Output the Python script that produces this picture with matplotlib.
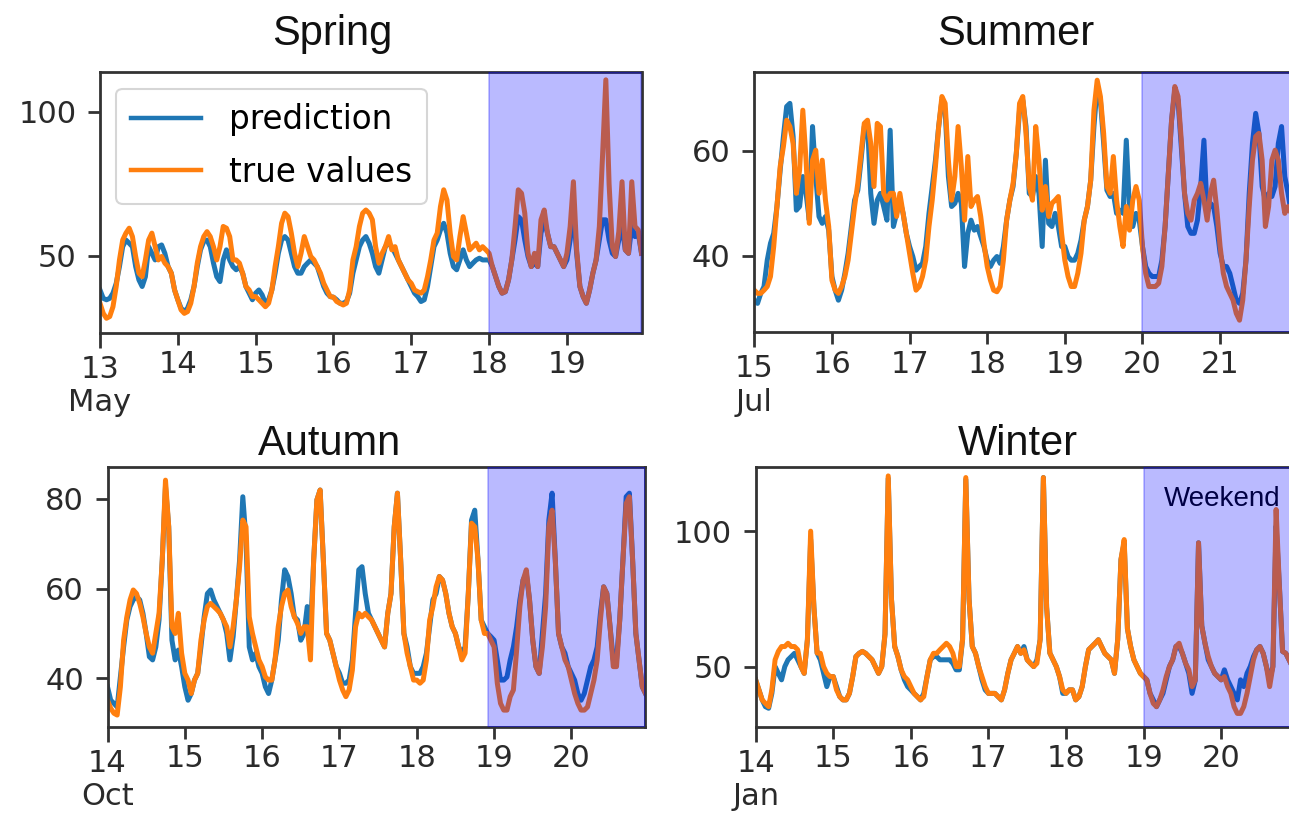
import numpy as np
import matplotlib
matplotlib.use("Agg")
import matplotlib.pyplot as plt

# ---------------- data (hourly values, 7 days each) ----------------
spring_days = ["13\nMay", "14", "15", "16", "17", "18", "19"]
summer_days = ["15\nJul", "16", "17", "18", "19", "20", "21"]
autumn_days = ["14\nOct", "15", "16", "17", "18", "19", "20"]
winter_days = ["14\nJan", "15", "16", "17", "18", "19", "20"]

spring_pred = [
    38.2, 35.3, 34.8, 35.3, 37.1, 40.5, 46.3, 53.2, 55.5, 54.4, 53.2, 46.3, 41.7, 39.4, 42.8, 53.2, 50.9, 48.6, 53.2, 53.8, 50.9, 46.3, 44.0, 38.2,
    34.8, 31.9, 30.7, 31.9, 34.8, 39.4, 46.3, 52.1, 55.0, 55.5, 53.2, 47.5, 42.8, 41.1, 48.6, 52.1, 48.6, 46.3, 45.2, 46.3, 44.0, 39.4, 37.1, 34.8,
    37.1, 38.2, 36.5, 33.6, 34.8, 38.2, 44.0, 50.9, 55.5, 56.7, 55.5, 50.9, 46.3, 44.0, 44.0, 46.3, 47.5, 48.6, 47.5, 46.3, 42.8, 39.4, 37.1, 35.9,
    35.7, 34.8, 33.6, 33.6, 34.2, 37.1, 44.0, 48.6, 53.2, 55.5, 56.7, 54.4, 50.9, 46.3, 44.0, 48.6, 53.2, 54.4, 53.2, 50.9, 48.6, 46.3, 44.0, 41.7,
    39.4, 37.1, 35.9, 34.2, 34.8, 39.4, 46.3, 53.2, 55.5, 59.0, 61.3, 57.9, 50.9, 46.3, 45.2, 48.6, 52.1, 48.6, 46.3, 47.5, 48.6, 49.2, 48.6, 48.6,
    48.6, 46.3, 42.8, 39.4, 37.1, 37.6, 41.7, 48.6, 55.5, 63.6, 62.5, 55.5, 49.8, 46.3, 47.5, 46.3, 57.9, 62.5, 57.9, 53.2, 53.2, 50.9, 48.6, 46.3,
    48.6, 55.5, 65.9, 50.9, 39.4, 35.9, 33.6, 38.2, 44.0, 48.6, 55.5, 62.5, 62.5, 55.5, 50.9, 49.8, 55.5, 60.2, 52.1, 50.9, 60.2, 56.7, 57.9, 50.9,
]
spring_true = [
    33.6, 30.1, 28.4, 29.0, 32.4, 39.4, 48.6, 55.5, 57.9, 59.6, 56.7, 49.8, 44.0, 42.8, 48.6, 55.5, 57.9, 53.2, 48.6, 49.8, 47.5, 46.3, 44.0, 38.2,
    34.8, 31.3, 30.1, 30.7, 33.6, 39.4, 47.5, 53.2, 56.7, 58.4, 56.7, 53.2, 48.6, 53.2, 60.2, 59.6, 56.7, 48.6, 48.6, 47.5, 44.0, 39.4, 38.2, 35.9,
    35.9, 34.8, 33.6, 32.4, 33.6, 38.2, 46.3, 53.2, 61.3, 64.8, 63.6, 57.9, 50.9, 46.3, 50.9, 56.7, 53.2, 49.8, 48.6, 46.3, 44.0, 40.5, 38.2, 35.9,
    35.7, 34.2, 33.6, 33.0, 33.6, 38.2, 48.6, 53.2, 60.2, 64.8, 65.9, 64.8, 62.5, 53.2, 47.5, 50.9, 53.2, 56.7, 52.1, 53.2, 48.6, 46.3, 44.0, 41.7,
    40.5, 38.2, 37.6, 37.1, 38.2, 42.8, 48.6, 55.5, 57.9, 67.1, 72.9, 69.4, 57.9, 49.8, 48.6, 56.7, 63.6, 57.9, 52.1, 53.2, 54.4, 52.1, 53.2, 52.1,
    50.9, 46.3, 42.8, 39.4, 37.1, 37.6, 41.7, 48.6, 60.2, 72.9, 71.7, 64.8, 50.9, 46.3, 50.9, 46.3, 62.5, 65.9, 57.9, 53.2, 53.2, 50.9, 48.6, 46.3,
    50.9, 60.2, 75.7, 52.1, 39.4, 35.9, 33.6, 38.2, 44.0, 48.6, 60.2, 85.0, 111.0, 75.0, 53.2, 49.8, 58.4, 75.7, 52.1, 50.9, 75.7, 60.2, 59.0, 50.9,
]

summer_pred = [
    31.6, 31.0, 32.9, 34.2, 39.2, 42.4, 44.3, 49.4, 56.3, 62.7, 68.4, 69.0, 62.7, 48.7, 49.4, 55.1, 51.9, 46.8, 64.6, 55.1, 47.5, 46.2, 47.5, 44.9,
    36.1, 33.5, 31.6, 33.5, 36.7, 40.5, 45.6, 50.6, 52.5, 58.2, 64.6, 65.2, 51.9, 46.2, 50.6, 51.9, 49.4, 46.8, 63.9, 45.6, 48.1, 50.6, 48.1, 44.3,
    41.8, 39.9, 37.3, 38.0, 38.6, 41.8, 48.1, 53.2, 58.2, 64.6, 69.6, 67.7, 55.1, 49.4, 50.0, 51.9, 50.0, 38.0, 44.3, 46.8, 44.9, 45.6, 43.7, 41.8,
    39.2, 38.0, 39.2, 39.9, 38.6, 41.8, 46.8, 50.6, 53.2, 59.5, 67.7, 69.6, 64.6, 51.9, 51.3, 55.1, 51.9, 41.8, 58.2, 46.2, 45.6, 48.1, 45.6, 41.8,
    41.8, 39.9, 39.2, 39.2, 40.5, 43.0, 46.8, 49.4, 54.4, 64.6, 72.2, 69.6, 61.4, 52.5, 51.3, 51.9, 48.1, 48.7, 48.1, 62.0, 48.7, 45.6, 48.1, 46.8,
    41.8, 38.0, 36.7, 36.1, 36.1, 36.1, 39.2, 45.6, 55.7, 65.8, 71.5, 69.6, 60.8, 51.9, 45.6, 44.3, 44.3, 46.8, 53.2, 62.0, 48.1, 50.0, 49.4, 45.6,
    40.5, 38.0, 38.0, 36.7, 34.2, 31.6, 31.0, 32.9, 39.2, 51.9, 61.4, 67.1, 63.3, 53.2, 50.6, 51.9, 51.3, 53.2, 61.4, 64.6, 55.1, 51.9, 48.1, 48.1,
]
summer_true = [
    33.5, 32.9, 32.9, 33.5, 34.2, 36.1, 41.8, 49.4, 57.0, 60.8, 65.8, 64.6, 61.4, 51.9, 56.3, 67.7, 58.2, 46.2, 58.2, 60.1, 51.9, 58.2, 50.6, 45.6,
    35.4, 33.5, 32.9, 34.2, 36.1, 39.2, 44.3, 49.4, 53.8, 59.5, 65.2, 65.8, 61.4, 53.2, 65.2, 64.6, 51.9, 50.6, 51.9, 51.9, 47.5, 51.9, 48.1, 44.3,
    40.5, 36.7, 33.5, 34.2, 36.1, 39.2, 45.6, 50.6, 57.0, 64.6, 70.3, 69.0, 58.2, 50.6, 55.1, 64.6, 57.0, 46.8, 58.9, 49.4, 50.6, 51.3, 47.5, 42.4,
    38.0, 35.4, 33.5, 33.2, 34.2, 39.2, 46.8, 50.6, 53.8, 59.5, 69.0, 70.3, 63.3, 53.2, 50.6, 64.6, 58.2, 48.7, 53.2, 47.5, 50.0, 50.6, 51.3, 44.3,
    39.2, 36.1, 34.2, 34.2, 36.7, 40.5, 46.8, 49.4, 54.4, 67.7, 73.4, 70.3, 63.3, 53.2, 51.9, 58.9, 50.6, 45.6, 41.8, 49.4, 44.9, 50.6, 53.2, 50.6,
    41.8, 36.7, 34.2, 34.2, 34.2, 34.8, 38.0, 45.6, 55.7, 65.8, 72.2, 70.3, 62.0, 51.9, 48.1, 46.8, 50.6, 51.9, 53.8, 50.6, 46.8, 51.9, 54.4, 48.7,
    41.8, 36.7, 34.2, 32.9, 31.6, 29.1, 27.8, 31.6, 39.2, 49.4, 58.2, 62.7, 63.3, 58.2, 45.6, 49.4, 58.2, 60.1, 58.2, 51.9, 48.1, 49.4, 48.1, 48.1,
]

autumn_pred = [
    38.1, 35.1, 34.4, 33.6, 40.3, 47.0, 53.0, 56.0, 57.5, 58.2, 57.5, 54.5, 50.0, 44.8, 44.1, 47.0, 53.0, 66.4, 82.8, 73.8, 48.5, 44.1, 46.3, 42.6,
    38.1, 35.1, 36.6, 39.6, 41.1, 47.0, 53.7, 58.9, 59.7, 57.5, 56.0, 54.5, 53.0, 50.0, 44.1, 49.3, 57.5, 66.4, 80.5, 70.8, 47.0, 44.1, 45.6, 42.6,
    41.1, 38.1, 36.6, 39.6, 44.1, 48.5, 57.5, 64.2, 62.7, 58.9, 53.7, 53.0, 48.5, 50.0, 56.0, 50.0, 66.4, 79.8, 82.0, 66.4, 50.0, 48.5, 45.6, 42.6,
    41.1, 38.9, 38.9, 39.6, 44.1, 54.5, 64.2, 64.9, 58.9, 54.5, 53.0, 51.5, 50.0, 48.5, 47.0, 54.5, 58.9, 73.8, 81.3, 66.4, 50.0, 47.0, 42.6, 41.1,
    41.1, 41.1, 42.6, 45.6, 51.5, 57.5, 58.9, 62.7, 61.9, 58.9, 54.5, 51.5, 50.0, 47.0, 45.6, 47.0, 58.9, 75.3, 77.5, 66.4, 53.0, 51.5, 50.0, 49.3,
    48.5, 44.1, 39.6, 39.6, 40.3, 44.1, 47.0, 51.5, 57.5, 61.9, 63.4, 57.5, 48.5, 42.6, 41.1, 50.0, 58.9, 75.3, 81.3, 66.4, 50.0, 47.0, 45.6, 42.6,
    41.1, 39.6, 36.6, 35.1, 36.6, 39.6, 42.6, 44.1, 47.0, 54.5, 60.4, 58.9, 51.5, 44.1, 44.1, 53.0, 66.4, 80.5, 81.3, 66.4, 50.0, 44.1, 38.1, 36.6,
]
autumn_true = [
    35.1, 33.3, 32.2, 31.8, 38.1, 48.5, 53.7, 57.5, 59.7, 58.9, 56.7, 53.7, 50.0, 47.0, 45.6, 50.0, 54.5, 66.4, 84.2, 73.8, 51.5, 50.0, 54.5, 45.6,
    41.1, 39.6, 36.6, 39.6, 41.1, 48.5, 53.0, 56.0, 56.7, 56.0, 55.3, 54.5, 53.0, 51.5, 47.0, 51.5, 57.5, 64.9, 75.3, 73.8, 53.7, 50.0, 47.0, 44.1,
    42.6, 40.3, 39.6, 39.6, 44.1, 51.5, 56.0, 58.9, 59.7, 56.0, 53.7, 52.2, 50.0, 51.5, 51.5, 44.1, 66.4, 79.8, 82.0, 66.4, 50.0, 48.5, 45.6, 42.6,
    39.6, 37.4, 35.9, 37.4, 41.8, 51.5, 54.5, 53.7, 54.5, 53.7, 53.0, 51.5, 50.0, 48.5, 47.0, 54.5, 58.9, 73.8, 81.3, 66.4, 50.0, 45.6, 42.6, 39.6,
    39.6, 38.9, 39.6, 44.1, 53.0, 56.0, 60.4, 62.7, 61.9, 58.9, 54.5, 51.5, 50.0, 47.0, 44.1, 45.6, 58.9, 74.6, 73.8, 66.4, 53.0, 50.0, 50.0, 48.5,
    47.0, 38.9, 34.4, 32.9, 32.9, 35.9, 37.4, 46.3, 56.0, 61.9, 64.2, 57.5, 48.5, 42.6, 41.1, 47.0, 56.0, 73.8, 77.5, 66.4, 50.0, 47.0, 44.1, 42.6,
    39.6, 36.6, 34.4, 32.9, 32.9, 33.6, 36.6, 39.6, 44.1, 53.0, 60.4, 58.9, 51.5, 42.6, 42.6, 53.0, 66.4, 79.0, 80.5, 66.4, 50.0, 44.1, 38.1, 36.6,
]

winter_pred = [
    45.1, 41.4, 37.7, 35.2, 34.6, 40.1, 50.0, 47.5, 45.1, 50.0, 52.5, 53.7, 54.9, 52.5, 50.0, 47.5, 60.0, 96.9, 72.0, 55.0, 52.5, 47.5, 42.6, 46.3,
    46.3, 42.6, 38.9, 37.7, 37.7, 40.1, 46.3, 53.7, 54.9, 55.6, 54.9, 53.7, 52.5, 50.0, 47.5, 50.0, 62.0, 119.5, 75.0, 57.4, 53.7, 48.8, 45.1, 42.6,
    41.4, 40.1, 38.9, 37.7, 40.1, 46.3, 52.5, 53.7, 53.7, 52.5, 52.5, 52.5, 52.5, 51.2, 48.8, 48.8, 60.0, 119.1, 75.0, 57.4, 54.9, 50.0, 45.1, 41.4,
    40.1, 40.1, 40.1, 38.9, 37.7, 41.4, 47.5, 52.5, 54.9, 57.4, 54.9, 57.4, 52.5, 51.2, 50.0, 52.5, 60.0, 119.8, 72.0, 55.0, 52.5, 50.0, 46.3, 40.1,
    40.1, 41.4, 41.4, 37.7, 38.9, 42.6, 50.0, 56.2, 57.4, 58.6, 59.9, 57.4, 54.9, 53.7, 52.5, 47.5, 60.0, 89.5, 95.7, 64.0, 57.4, 52.5, 50.0, 47.5,
    46.3, 45.1, 40.1, 37.7, 35.2, 37.7, 40.1, 45.1, 50.0, 52.5, 57.4, 57.4, 54.9, 51.2, 47.5, 40.1, 45.0, 95.7, 65.0, 58.6, 52.5, 50.0, 47.5, 46.3,
    45.1, 48.8, 45.1, 42.6, 40.1, 37.7, 45.1, 42.6, 47.5, 50.0, 53.7, 56.2, 57.4, 54.9, 50.0, 45.1, 50.0, 101.9, 80.0, 55.6, 54.9, 52.5, 50.0, 47.5,
]
winter_true = [
    45.1, 41.4, 37.7, 36.4, 35.2, 41.4, 52.5, 55.6, 57.4, 57.4, 58.6, 57.4, 57.4, 56.2, 50.0, 47.5, 60.0, 100.0, 72.0, 55.0, 54.9, 50.0, 47.5, 46.3,
    46.3, 41.4, 38.9, 37.7, 37.7, 40.1, 46.3, 53.7, 54.9, 55.6, 54.9, 53.7, 52.5, 50.0, 47.5, 50.0, 62.0, 120.4, 75.0, 57.4, 53.7, 48.8, 46.3, 45.1,
    42.6, 40.1, 38.9, 37.7, 38.9, 46.3, 52.5, 54.9, 54.9, 56.2, 57.4, 58.6, 57.4, 54.9, 50.0, 50.0, 60.0, 119.8, 75.0, 57.4, 54.9, 50.0, 46.3, 42.6,
    40.1, 40.1, 40.1, 38.9, 37.7, 41.4, 47.5, 52.5, 54.9, 57.4, 54.9, 56.2, 52.5, 51.2, 50.0, 51.2, 60.0, 119.8, 72.0, 55.0, 52.5, 50.0, 46.3, 41.4,
    40.1, 41.4, 41.4, 37.7, 38.9, 42.6, 50.0, 56.2, 57.4, 58.6, 59.9, 57.4, 54.9, 53.7, 52.5, 47.5, 60.0, 89.5, 96.9, 64.0, 57.4, 52.5, 50.0, 47.5,
    46.3, 45.1, 40.1, 36.4, 35.2, 37.7, 41.4, 46.3, 50.0, 52.5, 57.4, 58.6, 54.9, 51.2, 48.8, 42.6, 45.0, 95.7, 65.0, 58.6, 53.7, 50.0, 47.5, 46.3,
    45.1, 46.3, 42.6, 40.1, 35.2, 32.7, 32.7, 35.2, 40.1, 46.3, 52.5, 56.2, 57.4, 54.9, 50.0, 42.6, 50.0, 108.0, 80.0, 55.6, 54.9, 52.5, 50.0, 47.5,
]

titles = ["Spring", "Summer", "Autumn", "Winter"]
weekend_start_day = [5.0, 5.0, 4.92, 5.0]   # day index where the weekend shading begins
weekend_label = "Weekend"

# ---------------- layout / styling ----------------
W, H = 1289, 822
fig = plt.figure(figsize=(W / 100, H / 100), dpi=100)

def px_rect(left, top, right, bottom):
    return [left / W, 1 - bottom / H, (right - left) / W, (bottom - top) / H]

panels = [
    dict(rect=px_rect(100, 72.3, 641.5, 332.7), ylim=(23.4, 113.6), yticks=[50, 100],
         days=spring_days, pred=spring_pred, true=spring_true, title_xy=(332, 45)),
    dict(rect=px_rect(754.3, 72.3, 1294.5, 332.3), ylim=(25.5, 74.9), yticks=[40, 60],
         days=summer_days, pred=summer_pred, true=summer_true, title_xy=(1016, 45)),
    dict(rect=px_rect(107.5, 466.7, 645.5, 726.7), ylim=(29.2, 87.2), yticks=[40, 60, 80],
         days=autumn_days, pred=autumn_pred, true=autumn_true, title_xy=(330, 455)),
    dict(rect=px_rect(755.7, 467.5, 1295.5, 726.7), ylim=(27.8, 123.5), yticks=[50, 100],
         days=winter_days, pred=winter_pred, true=winter_true, title_xy=(1018, 455)),
]

BLUE = "#1f77b4"
ORANGE = "#ff7f0e"
SPINE = "#333333"
TXT = "#2a2a2a"

for i, p in enumerate(panels):
    ax = fig.add_axes(p["rect"])
    pred = np.asarray(p["pred"])
    true = np.asarray(p["true"])
    t = np.arange(len(pred)) / 24.0
    ax.plot(t, pred, color=BLUE, lw=3.6, label="prediction", zorder=2)
    ax.plot(t, true, color=ORANGE, lw=3.6, label="true values", zorder=2.1)
    ax.axvspan(weekend_start_day[i], t[-1], color="blue", alpha=0.27, lw=1.2, zorder=3)
    ax.set_xlim(0, t[-1])
    ax.set_ylim(*p["ylim"])
    ax.set_yticks(p["yticks"])
    ax.set_xticks([0], labels=[p["days"][0]])
    ax.set_xticks(np.arange(1, len(p["days"])), labels=p["days"][1:], minor=True)
    for s in ax.spines.values():
        s.set_color(SPINE)
        s.set_linewidth(2.0)
    ax.tick_params(axis="y", length=9, width=2, pad=8, labelsize=22, color=SPINE, labelcolor=TXT)
    ax.tick_params(axis="x", which="major", length=10.8, width=2, pad=5, labelsize=22,
                   color=SPINE, labelcolor=TXT)
    ax.tick_params(axis="x", which="minor", length=8.4, width=2, pad=4, labelsize=22,
                   color=SPINE, labelcolor=TXT)
    fig.text(p["title_xy"][0] / W, 1 - p["title_xy"][1] / H, titles[i], ha="center",
             va="baseline", fontsize=30, family="Liberation Sans", color="#111111")
    if i == 0:
        leg = ax.legend(loc="upper left", fontsize=23.5, handlelength=2.15, handletextpad=0.85,
                        borderpad=0.45, labelspacing=0.6, frameon=True)
        leg.get_frame().set_edgecolor("#cccccc")
        leg.get_frame().set_linewidth(1.5)
        for line in leg.get_lines():
            line.set_linewidth(3.2)
        leg.set_zorder(5)
    if i == 3:
        ax.text(0.865, 0.88, weekend_label, transform=ax.transAxes, ha="center", va="center",
                fontsize=20, family="Liberation Sans", color="black", zorder=2)

fig.savefig("out.png", dpi=100)
